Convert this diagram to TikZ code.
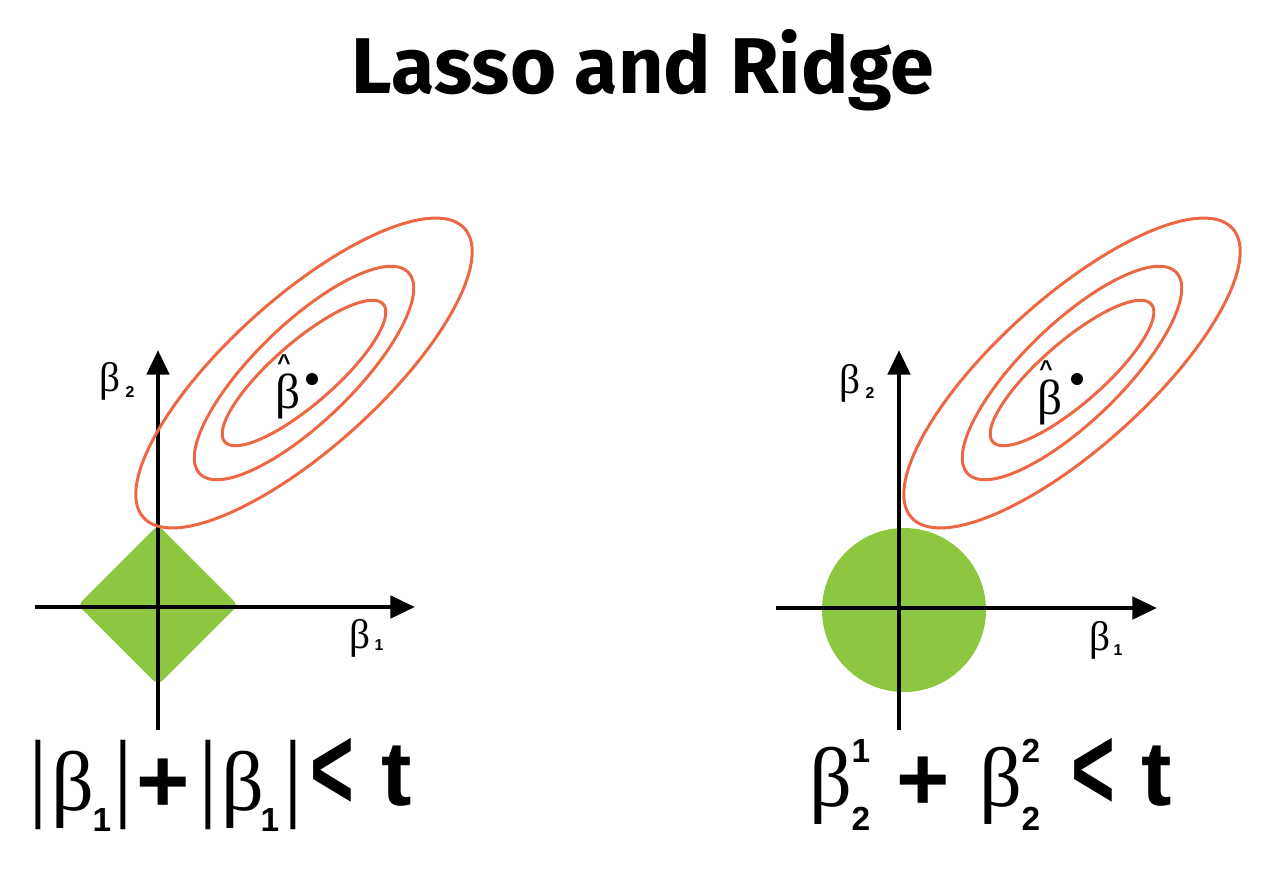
\documentclass[tikz,border=0pt]{standalone}
\usepackage{fontspec}
\usepackage{graphicx}
\usetikzlibrary{arrows.meta}
\setmainfont{Liberation Sans}
\newfontfamily\greekfont{Liberation Serif}
\newfontfamily\titlefont{Fira Sans}
\definecolor{normgreen}{RGB}{141,198,63}
\definecolor{contour}{RGB}{236,104,68}
\tikzset{
	axis/.style={line width=2.8pt,-{Triangle[length=14pt,width=12.5pt]}},
	level/.style={draw=contour,line width=1.7pt},
	glyph/.style={inner sep=0pt,anchor=center},
	bigbeta/.style={glyph,font=\greekfont\fontsize{48}{48}\selectfont},
	bigsub/.style={glyph,font=\bfseries\fontsize{19}{19}\selectfont},
	bigop/.style={glyph,font=\bfseries\fontsize{52}{52}\selectfont},
	absbar/.style={glyph,font=\greekfont\fontsize{56}{56}\selectfont},
	axbeta/.style={glyph,font=\greekfont\fontsize{23.5}{24}\selectfont},
	axsub/.style={glyph,font=\bfseries\fontsize{9}{9}\selectfont},
	hatbeta/.style={glyph,font=\greekfont\fontsize{28}{28}\selectfont},
	hatmark/.style={glyph,font=\bfseries\fontsize{13}{13}\selectfont},
}
\newcommand{\lessmark}{\scalebox{0.82}[1.3]{<}}
\begin{document}
\begin{tikzpicture}[x=0.02cm,y=-0.02cm]
	\useasboundingbox (0,0) rectangle (1266,880);
	\node[glyph,font=\titlefont\bfseries\fontsize{45}{50}\selectfont] (title) at (643,70) {Lasso and Ridge};
	% lasso panel
	\fill[normgreen,rounded corners=3pt] (158,525)--(238,605)--(158,685)--(78,605)--cycle;
	\draw[axis] (35,607)--(415,607);
	\draw[axis] (158,730)--(158,350);
	\foreach \a/\b/\r in {216/75/42,145/49/44,105/31/41}{
		\draw[level,rotate around={\r:(304,373)}] (304,373) ellipse[x radius=\a,y radius=\b];
	}
	\fill (312,379) circle[radius=6];
	\node[hatbeta] (lhatb) at (288,396) {β};
	\node[hatmark] (lhat) at (284,363) {\textasciicircum};
	\node[axbeta] (lyb) at (110,381) {β};
	\node[axsub] (lys) at (130,392) {2};
	\node[axbeta] (lxb) at (360,638) {β};
	\node[axsub] (lxs) at (379,645) {1};
	% ridge panel
	\fill[normgreen] (904,610) circle[radius=82];
	\draw[axis] (776,608)--(1157,608);
	\draw[axis] (899,730)--(899,350);
	\begin{scope}[shift={(768,0)}]
		\foreach \a/\b/\r in {216/75/42,145/49/44,105/31/41}{
			\draw[level,rotate around={\r:(304,373)}] (304,373) ellipse[x radius=\a,y radius=\b];
		}
	\end{scope}
	\fill (1077,379) circle[radius=6];
	\node[hatbeta] (rhatb) at (1050,402) {β};
	\node[hatmark] (rhat) at (1046,369) {\textasciicircum};
	\node[axbeta] (ryb) at (850,383) {β};
	\node[axsub] (rys) at (870,393) {2};
	\node[axbeta] (rxb) at (1100,640) {β};
	\node[axsub] (rxs) at (1118,650) {1};
	% constraint formulas
	\node[absbar] (lasA) at (38,785) {|};
	\node[bigbeta] (lasB) at (73,790) {β};
	\node[bigsub] (lasC) at (102,820) {1};
	\node[absbar] (lasD) at (123,785) {|};
	\node[bigop] (lasE) at (163,786) {+};
	\node[absbar] (lasF) at (208,785) {|};
	\node[bigbeta] (lasG) at (243,790) {β};
	\node[bigsub] (lasH) at (270,820) {1};
	\node[absbar] (lasI) at (293,785) {|};
	\node[bigop] (lasJ) at (332,774) {\lessmark};
	\node[bigop] (lasK) at (397,776) {t};
	\node[bigbeta] (ridA) at (831,786) {β};
	\node[bigsub] (ridB) at (861,751) {1};
	\node[bigsub] (ridC) at (861,819) {2};
	\node[bigop] (ridD) at (923,784) {+};
	\node[bigbeta] (ridE) at (1001,786) {β};
	\node[bigsub] (ridF) at (1031,751) {2};
	\node[bigsub] (ridG) at (1031,819) {2};
	\node[bigop] (ridH) at (1093,774) {\lessmark};
	\node[bigop] (ridI) at (1157,776) {t};
\end{tikzpicture}
\end{document}
